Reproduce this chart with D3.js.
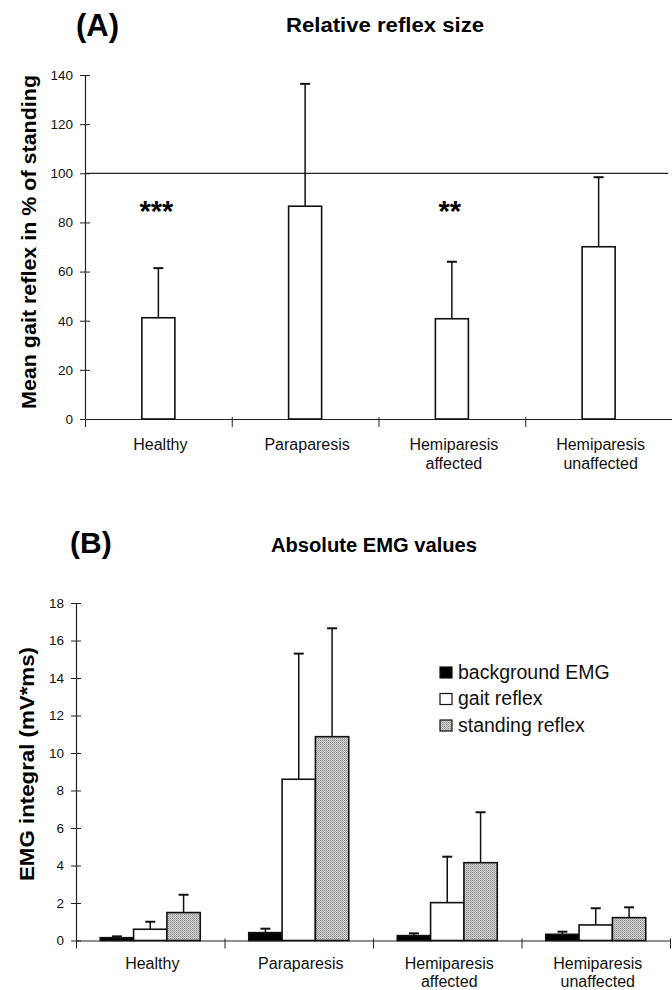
<!DOCTYPE html>
<html>
<head>
<meta charset="utf-8">
<script src="https://cdn.jsdelivr.net/npm/d3@7/dist/d3.min.js"></script>
<style>
  html, body { margin: 0; padding: 0; background: #fff; }
  svg { display: block; font-family: "Liberation Sans", Arial, Helvetica, sans-serif; }
</style>
</head>
<body>
<svg id="chart" width="672" height="990"></svg>
<script>
// ---------- DATA ----------
const categories = ["Healthy", "Paraparesis", "Hemiparesis affected", "Hemiparesis unaffected"];
const categoryLines = [["Healthy"], ["Paraparesis"], ["Hemiparesis", "affected"], ["Hemiparesis", "unaffected"]];

// Panel A: relative reflex size (% of standing)
const relMean = [41.2, 86.6, 40.8, 70.1];
const relErrTop = [61.4, 136.4, 64.0, 98.4];
const relStars = ["***", "", "**", ""];
const relTicks = [0, 20, 40, 60, 80, 100, 120, 140];
const relReference = 100;

// Panel B: absolute EMG values (mV*ms)
const seriesNames = ["background EMG", "gait reflex", "standing reflex"];
const backgroundEMG = [0.15, 0.42, 0.26, 0.33];
const backgroundErr = [0.22, 0.63, 0.38, 0.47];
const gaitReflex = [0.60, 8.6, 2.02, 0.83];
const gaitErr = [1.0, 15.3, 4.47, 1.72];
const standingReflex = [1.49, 10.87, 4.15, 1.22];
const standingErr = [2.44, 16.65, 6.84, 1.77];
const emgTicks = [0, 2, 4, 6, 8, 10, 12, 14, 16, 18];

// ---------- SETUP ----------
const svg = d3.select("#chart");
const defs = svg.append("defs");
const pat = defs.append("pattern").attr("id", "stip")
  .attr("patternUnits", "userSpaceOnUse").attr("width", 2).attr("height", 2);
pat.append("rect").attr("width", 2).attr("height", 2).attr("fill", "#d6d6d6");
pat.append("rect").attr("x", 0).attr("y", 0).attr("width", 1).attr("height", 1).attr("fill", "#8a8a8a");
pat.append("rect").attr("x", 1).attr("y", 1).attr("width", 1).attr("height", 1).attr("fill", "#a8a8a8");

const fills = ["#000", "#fff", "url(#stip)"];

function styleYAxis(g, tickHalf) {
  g.select(".domain").attr("stroke", "#222").attr("stroke-width", 1.2);
  g.selectAll(".tick line").attr("x1", -tickHalf).attr("x2", tickHalf).attr("stroke", "#222").attr("stroke-width", 1);
  g.selectAll(".tick text").attr("fill", "#111");
}

// ---------- PANEL A ----------
const A = { left: 85, right: 672, top: 75, bottom: 419 };
const yA = d3.scaleLinear().domain([0, 140]).range([A.bottom, A.top]);
const xA = d3.scaleBand().domain(categories).range([A.left, A.right]).padding(0);
const xAEdge = d3.scaleLinear().domain([0, categories.length]).range([A.left, A.right]);

svg.append("text").attr("x", 76).attr("y", 36)
  .attr("font-size", 31).attr("font-weight", "bold").text("(A)");
svg.append("text").attr("x", 385).attr("y", 32).attr("text-anchor", "middle")
  .attr("font-size", 20).attr("font-weight", "bold")
  .attr("textLength", 198).attr("lengthAdjust", "spacingAndGlyphs")
  .text("Relative reflex size");

const gyA = svg.append("g").attr("transform", `translate(${A.left},0)`)
  .call(d3.axisLeft(yA).tickValues(relTicks).tickSize(5).tickSizeOuter(0).tickPadding(7))
  .attr("font-size", 13.5).attr("font-family", null);
styleYAxis(gyA, 5);

const gxA = svg.append("g").attr("transform", `translate(0,${A.bottom})`)
  .call(d3.axisBottom(xAEdge).tickValues(d3.range(categories.length + 1)).tickFormat("").tickSize(8).tickSizeOuter(0));
gxA.select(".domain").attr("stroke", "#222").attr("stroke-width", 1.2);
gxA.selectAll(".tick line").attr("y1", -2).attr("stroke", "#222");

// reference line at 100 %
svg.append("line")
  .attr("x1", A.left).attr("x2", A.right - 4)
  .attr("y1", yA(relReference)).attr("y2", yA(relReference))
  .attr("stroke", "#222").attr("stroke-width", 1.3);

const barWA = xA.bandwidth() * 0.225;
const gA = svg.append("g");
// error bars
categories.forEach((c, i) => {
  const cx = xA(c) + xA.bandwidth() / 2;
  gA.append("line").attr("x1", cx).attr("x2", cx)
    .attr("y1", yA(relMean[i])).attr("y2", yA(relErrTop[i]))
    .attr("stroke", "#111").attr("stroke-width", 1.5);
  gA.append("line").attr("x1", cx - 5).attr("x2", cx + 5)
    .attr("y1", yA(relErrTop[i])).attr("y2", yA(relErrTop[i]))
    .attr("stroke", "#111").attr("stroke-width", 2);
});
gA.selectAll("rect.bar").data(relMean).join("rect")
  .attr("class", "bar")
  .attr("x", (d, i) => xA(categories[i]) + xA.bandwidth() / 2 - barWA / 2)
  .attr("y", d => yA(d))
  .attr("width", barWA)
  .attr("height", d => yA(0) - yA(d))
  .attr("fill", "#fff").attr("stroke", "#111").attr("stroke-width", 1.6);

// significance stars
gA.selectAll("text.star").data(relStars).join("text")
  .attr("class", "star")
  .attr("x", (d, i) => xA(categories[i]) + xA.bandwidth() / 2 - 2)
  .attr("y", 221)
  .attr("text-anchor", "middle")
  .attr("font-size", 29).attr("font-weight", "bold")
  .text(d => d);

// category labels A
categoryLines.forEach((lines, i) => {
  const cx = xA(categories[i]) + xA.bandwidth() / 2 + 2;
  const t = svg.append("text").attr("text-anchor", "middle").attr("font-size", 16).attr("fill", "#111");
  lines.forEach((ln, k) => {
    t.append("tspan").attr("x", cx).attr("y", 450 + k * 19).text(ln);
  });
});

// y title A
svg.append("text")
  .attr("transform", `translate(36,242) rotate(-90)`)
  .attr("text-anchor", "middle")
  .attr("font-size", 20).attr("font-weight", "bold")
  .attr("textLength", 334).attr("lengthAdjust", "spacingAndGlyphs")
  .text("Mean gait reflex in % of standing");

// ---------- PANEL B ----------
const B = { left: 76, right: 670, top: 603, bottom: 940.5 };
const yB = d3.scaleLinear().domain([0, 18]).range([B.bottom, B.top]);
const xB = d3.scaleBand().domain(categories).range([B.left, B.right]).padding(0);
const xBEdge = d3.scaleLinear().domain([0, categories.length]).range([B.left, B.right]);
const groupW = 100;
const xSub = d3.scaleBand().domain(seriesNames).range([0, groupW]).padding(0);

svg.append("text").attr("x", 70).attr("y", 553)
  .attr("font-size", 30).attr("font-weight", "bold").text("(B)");
svg.append("text").attr("x", 374).attr("y", 552).attr("text-anchor", "middle")
  .attr("font-size", 20).attr("font-weight", "bold")
  .attr("textLength", 206).attr("lengthAdjust", "spacingAndGlyphs")
  .text("Absolute EMG values");

const gyB = svg.append("g").attr("transform", `translate(${B.left},0)`)
  .call(d3.axisLeft(yB).tickValues(emgTicks).tickSize(5).tickSizeOuter(0).tickPadding(7))
  .attr("font-size", 13.5).attr("font-family", null);
styleYAxis(gyB, 5);

const gxB = svg.append("g").attr("transform", `translate(0,${B.bottom})`)
  .call(d3.axisBottom(xBEdge).tickValues(d3.range(categories.length + 1)).tickFormat("").tickSize(8).tickSizeOuter(0));
gxB.select(".domain").attr("stroke", "#222").attr("stroke-width", 1.2);
gxB.selectAll(".tick line").attr("y1", -2).attr("stroke", "#222");

const seriesVals = [backgroundEMG, gaitReflex, standingReflex];
const seriesErr = [backgroundErr, gaitErr, standingErr];
const gB = svg.append("g");
seriesNames.forEach((s, si) => {
  categories.forEach((c, i) => {
    const x0 = xB(c) + xB.bandwidth() / 2 - groupW / 2 + xSub(s);
    const cx = x0 + xSub.bandwidth() / 2;
    gB.append("line").attr("x1", cx).attr("x2", cx)
      .attr("y1", yB(seriesVals[si][i])).attr("y2", yB(seriesErr[si][i]))
      .attr("stroke", "#111").attr("stroke-width", 1.5);
    gB.append("line").attr("x1", cx - 5).attr("x2", cx + 5)
      .attr("y1", yB(seriesErr[si][i])).attr("y2", yB(seriesErr[si][i]))
      .attr("stroke", "#111").attr("stroke-width", 2);
  });
});
seriesNames.forEach((s, si) => {
  gB.selectAll(`rect.s${si}`).data(seriesVals[si]).join("rect")
    .attr("class", `s${si}`)
    .attr("x", (d, i) => xB(categories[i]) + xB.bandwidth() / 2 - groupW / 2 + xSub(s))
    .attr("y", d => yB(d))
    .attr("width", xSub.bandwidth())
    .attr("height", d => yB(0) - yB(d))
    .attr("fill", fills[si]).attr("stroke", "#111").attr("stroke-width", 1.6);
});

// category labels B
categoryLines.forEach((lines, i) => {
  const cx = xB(categories[i]) + xB.bandwidth() / 2 + 2;
  const t = svg.append("text").attr("text-anchor", "middle").attr("font-size", 16).attr("fill", "#111");
  lines.forEach((ln, k) => {
    t.append("tspan").attr("x", cx).attr("y", 969 + k * 18).text(ln);
  });
});

// y title B
svg.append("text")
  .attr("transform", `translate(34,764) rotate(-90)`)
  .attr("text-anchor", "middle")
  .attr("font-size", 21).attr("font-weight", "bold")
  .attr("textLength", 234).attr("lengthAdjust", "spacingAndGlyphs")
  .text("EMG integral (mV*ms)");

// legend
const leg = svg.append("g").attr("transform", "translate(440,667)");
seriesNames.forEach((s, si) => {
  const r = leg.append("g").attr("transform", `translate(0,${si * 26.5})`);
  r.append("rect").attr("x", 0).attr("y", 0).attr("width", 12).attr("height", 11)
    .attr("fill", fills[si]).attr("stroke", "#111").attr("stroke-width", 1.2);
  r.append("text").attr("x", 18).attr("y", 11.5).attr("font-size", 19.5).attr("fill", "#111").text(s);
});
</script>
</body>
</html>
